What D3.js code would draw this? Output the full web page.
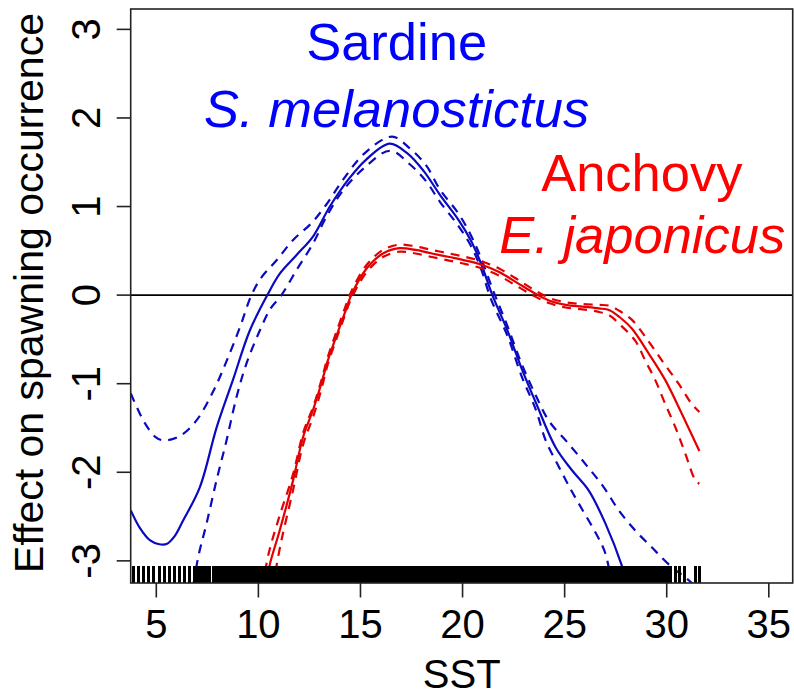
<!DOCTYPE html>
<html>
<head>
<meta charset="utf-8">
<script src="https://cdn.jsdelivr.net/npm/d3@7"></script>
<style>
  html, body { margin: 0; padding: 0; background: #fff; }
  svg { display: block; }
  text { font-family: "Liberation Sans", Arial, sans-serif; }
</style>
</head>
<body>
<svg id="chart" width="794" height="697"></svg>
<script>
// Smooth effect of SST on spawning occurrence (GAM partial effects, ±2 SE)

// Sardine (S. melanostictus) fitted effect
const sardineFit = [
  [3.75,-2.43],[4.2,-2.63],[4.7,-2.77],[5.1,-2.81],[5.5,-2.81],[5.9,-2.72],[6.3,-2.55],
  [7.13,-2.17],[7.96,-1.49],[8.75,-0.96],[9.58,-0.40],[10.46,0.01],[11.04,0.24],
  [11.86,0.45],[12.7,0.67],[13.5,1.0],[14.46,1.32],[15.28,1.53],[16.43,1.71],
  [17.3,1.60],[18.1,1.40],[18.9,1.13],[19.8,0.85],[20.4,0.62],[20.9,0.36],
  [21.46,0.0],[22.2,-0.40],[22.93,-0.85],[23.6,-1.22],[24.56,-1.72],[25.37,-1.98],
  [26.19,-2.21],[27.0,-2.58],[27.81,-3.06],[28.3,-3.45]
];
const sardineUpper = [
  [3.75,-1.11],[4.4,-1.43],[4.95,-1.60],[5.35,-1.64],[6.15,-1.59],[6.95,-1.42],
  [7.8,-1.08],[8.45,-0.74],[9.1,-0.36],[9.66,0.0],[10.15,0.20],[10.88,0.39],
  [11.69,0.62],[12.59,0.81],[13.32,1.02],[14.14,1.30],[15.2,1.60],[16.55,1.79],
  [17.4,1.66],[18.2,1.47],[18.9,1.19],[19.8,0.92],[20.4,0.68],[20.9,0.42],
  [21.5,0.05],[22.2,-0.35],[22.9,-0.78],[23.6,-1.14],[24.23,-1.42],[25.2,-1.68],
  [26.1,-1.93],[26.92,-2.17],[27.65,-2.43],[28.47,-2.66],[29.28,-2.85],[30.1,-3.04],
  [31.23,-3.25],[31.6,-3.35]
];
const sardineLower = [
  [6.7,-3.45],[7.05,-2.96],[7.46,-2.58],[7.95,-2.09],[8.44,-1.64],[8.93,-1.15],
  [9.42,-0.77],[10.07,-0.40],[10.6,-0.15],[11.13,0.0],[11.86,0.28],[12.67,0.58],
  [13.32,0.88],[14.14,1.18],[15.2,1.44],[16.45,1.63],[17.4,1.48],[18.2,1.29],
  [18.9,1.05],[19.8,0.78],[20.4,0.56],[20.9,0.30],[21.4,-0.05],[22.2,-0.46],
  [22.9,-0.92],[23.6,-1.30],[24.07,-1.64],[24.72,-1.94],[25.29,-2.19],[25.86,-2.42],
  [26.51,-2.68],[27.0,-2.92],[27.4,-3.4]
];

// Anchovy (E. japonicus) fitted effect
const anchovyFit = [
  [10.3,-3.35],[10.56,-3.04],[11.04,-2.66],[11.69,-2.10],[12.18,-1.61],[12.67,-1.30],
  [13.08,-1.00],[13.4,-0.74],[13.81,-0.47],[14.22,-0.21],[14.55,0.0],[15.3,0.30],
  [16.1,0.47],[16.9,0.53],[17.7,0.51],[18.5,0.47],[19.35,0.43],[20.16,0.39],
  [20.97,0.34],[21.79,0.26],[22.6,0.15],[23.42,0.035],[24.23,-0.06],[25.05,-0.11],
  [25.86,-0.13],[26.68,-0.15],[27.2,-0.17],[27.7,-0.25],[28.3,-0.38],[29.12,-0.66],
  [29.93,-0.96],[30.74,-1.34],[31.6,-1.76]
];
const anchovyUpper = [
  [10.2,-3.3],[10.5,-2.92],[11.0,-2.52],[11.7,-2.02],[12.2,-1.55],[12.7,-1.25],
  [13.1,-0.95],[13.4,-0.70],[13.8,-0.43],[14.2,-0.17],[14.55,0.04],[15.3,0.34],
  [16.1,0.51],[16.9,0.57],[17.7,0.55],[18.5,0.51],[19.35,0.47],[20.16,0.43],
  [20.97,0.38],[21.79,0.30],[22.6,0.19],[23.42,0.07],[24.23,-0.03],[25.05,-0.08],
  [25.86,-0.10],[26.68,-0.11],[27.2,-0.12],[27.7,-0.18],[28.3,-0.28],[28.95,-0.47],
  [29.77,-0.74],[30.58,-1.0],[31.23,-1.23],[31.6,-1.32]
];
const anchovyLower = [
  [10.7,-3.3],[11.1,-2.8],[11.7,-2.2],[12.2,-1.68],[12.7,-1.36],[13.1,-1.05],
  [13.4,-0.78],[13.8,-0.51],[14.2,-0.25],[14.55,-0.04],[15.3,0.26],[16.1,0.43],
  [16.9,0.49],[17.7,0.47],[18.5,0.43],[19.35,0.39],[20.16,0.35],[20.97,0.30],
  [21.79,0.22],[22.6,0.11],[23.42,0.0],[24.23,-0.09],[25.05,-0.14],[25.86,-0.16],
  [26.68,-0.19],[27.2,-0.23],[27.7,-0.33],[28.47,-0.52],[28.95,-0.74],[29.44,-0.96],
  [29.93,-1.23],[30.42,-1.49],[30.91,-1.79],[31.4,-2.09],[31.6,-2.13]
];

// Observed SST values (rug)
const sstObs = [
  3.88,4.12,4.37,4.64,4.88,5.15,5.39,5.64,5.91,6.16,6.40,6.65,6.89,
  7.0,7.1,7.2,7.3,7.4,7.5,7.6,7.8,7.9,
  8.0,8.1,8.2,8.3,8.4,8.5,8.6,8.7,8.8,8.9,
  9.0,9.1,9.2,9.3,9.4,9.5,9.6,9.7,9.8,9.9,
  10.0,10.1,10.2,10.3,10.4,10.5,10.6,10.7,10.8,10.9,
  11.0,11.1,11.2,11.3,11.4,11.5,11.6,11.7,11.8,11.9,
  12.0,12.1,12.2,12.3,12.4,12.5,12.6,12.7,12.8,12.9,
  13.0,13.1,13.2,13.3,13.4,13.5,13.6,13.7,13.8,13.9,
  14.0,14.1,14.2,14.3,14.4,14.5,14.6,14.7,14.8,14.9,
  15.0,15.1,15.2,15.3,15.4,15.5,15.6,15.7,15.8,15.9,
  16.0,16.1,16.2,16.3,16.4,16.5,16.6,16.7,16.8,16.9,
  17.0,17.1,17.2,17.3,17.4,17.5,17.6,17.7,17.8,17.9,
  18.0,18.1,18.2,18.3,18.4,18.5,18.6,18.7,18.8,18.9,
  19.0,19.1,19.2,19.3,19.4,19.5,19.6,19.7,19.8,19.9,
  20.0,20.1,20.2,20.3,20.4,20.5,20.6,20.7,20.8,20.9,
  21.0,21.1,21.2,21.3,21.4,21.5,21.6,21.7,21.8,21.9,
  22.0,22.1,22.2,22.3,22.4,22.5,22.6,22.7,22.8,22.9,
  23.0,23.1,23.2,23.3,23.4,23.5,23.6,23.7,23.8,23.9,
  24.0,24.1,24.2,24.3,24.4,24.5,24.6,24.7,24.8,24.9,
  25.0,25.1,25.2,25.3,25.4,25.5,25.6,25.7,25.8,25.9,
  26.0,26.1,26.2,26.3,26.4,26.5,26.6,26.7,26.8,26.9,
  27.0,27.1,27.2,27.3,27.4,27.5,27.6,27.7,27.8,27.9,
  28.0,28.1,28.2,28.3,28.4,28.5,28.6,28.7,28.8,28.9,
  29.0,29.1,29.2,29.3,29.4,29.5,29.6,29.7,29.8,29.9,
  30.0,30.1,30.2,
  30.44,30.64,30.88,31.41,31.61
];

const xTicks = [5, 10, 15, 20, 25, 30, 35];
const yTicks = [-3, -2, -1, 0, 1, 2, 3];
const xTitle = "SST";
const yTitle = "Effect on spawning occurrence";
const speciesLabels = [
  { text: "Sardine", italic: false, color: "#0000ff", x: 16.77, y: 2.65 },
  { text: "S. melanostictus", italic: true, color: "#0000ff", x: 16.77, y: 1.9 },
  { text: "Anchovy", italic: false, color: "#ff0000", x: 28.78, y: 1.18 },
  { text: "E. japonicus", italic: true, color: "#ff0000", x: 28.8, y: 0.47 }
];

const svg = d3.select("#chart");
const plot = { left: 130.7, right: 792.7, top: 9, bottom: 583 };

const x = d3.scaleLinear().domain([3.746, 36.17]).range([plot.left, plot.right]);
const y = d3.scaleLinear().domain([-3.25, 3.23]).range([plot.bottom, plot.top]);

svg.append("defs").append("clipPath").attr("id", "plotClip")
  .append("rect")
  .attr("x", plot.left).attr("y", plot.top)
  .attr("width", plot.right - plot.left).attr("height", plot.bottom - plot.top);

const g = svg.append("g").attr("clip-path", "url(#plotClip)");

// zero reference line
g.append("line")
  .attr("x1", plot.left).attr("x2", plot.right)
  .attr("y1", y(0)).attr("y2", y(0))
  .attr("stroke", "#000").attr("stroke-width", 1.6);

const line = d3.line().x(d => x(d[0])).y(d => y(d[1])).curve(d3.curveCatmullRom.alpha(0.5));

function drawCurve(data, color, dashed) {
  g.append("path")
    .datum(data)
    .attr("d", line)
    .attr("fill", "none")
    .attr("stroke", color)
    .attr("stroke-width", 2.2)
    .attr("stroke-dasharray", dashed ? "9,7" : null);
}

const blue = "#0a0ac0";
const red = "#e40000";
drawCurve(sardineFit, blue, false);
drawCurve(sardineUpper, blue, true);
drawCurve(sardineLower, blue, true);
drawCurve(anchovyFit, red, false);
drawCurve(anchovyUpper, red, true);
drawCurve(anchovyLower, red, true);

// rug of observed SST values along the bottom
g.append("g").attr("shape-rendering", "crispEdges").selectAll("line")
  .data(sstObs)
  .join("line")
  .attr("x1", d => x(d)).attr("x2", d => x(d))
  .attr("y1", plot.bottom).attr("y2", plot.bottom - 17.5)
  .attr("stroke", "#000").attr("stroke-width", 3);

// plot frame
svg.append("rect")
  .attr("x", plot.left).attr("y", plot.top)
  .attr("width", plot.right - plot.left).attr("height", plot.bottom - plot.top)
  .attr("fill", "none").attr("stroke", "#222").attr("stroke-width", 1.6);

// x axis
const xAxis = svg.append("g");
xAxis.selectAll("line.tick")
  .data(xTicks).join("line")
  .attr("x1", d => x(d)).attr("x2", d => x(d))
  .attr("y1", plot.bottom).attr("y2", plot.bottom + 14.5)
  .attr("stroke", "#222").attr("stroke-width", 1.6);
xAxis.selectAll("text")
  .data(xTicks).join("text")
  .attr("x", d => x(d)).attr("y", 638)
  .attr("text-anchor", "middle")
  .attr("font-size", 40)
  .attr("fill", "#000")
  .text(d => d);
svg.append("text")
  .attr("x", (plot.left + plot.right) / 2).attr("y", 688)
  .attr("text-anchor", "middle").attr("font-size", 40).attr("fill", "#000")
  .text(xTitle);

// y axis
const yAxis = svg.append("g");
yAxis.selectAll("line.tick")
  .data(yTicks).join("line")
  .attr("x1", plot.left - 14).attr("x2", plot.left)
  .attr("y1", d => y(d)).attr("y2", d => y(d))
  .attr("stroke", "#222").attr("stroke-width", 1.6);
yAxis.selectAll("text")
  .data(yTicks).join("text")
  .attr("transform", d => `translate(100,${y(d)}) rotate(-90)`)
  .attr("text-anchor", "middle")
  .attr("font-size", 40)
  .attr("fill", "#000")
  .text(d => d);
svg.append("text")
  .attr("transform", `translate(43,293) rotate(-90)`)
  .attr("text-anchor", "middle").attr("font-size", 41).attr("fill", "#000")
  .text(yTitle);

// species labels
svg.append("g").selectAll("text")
  .data(speciesLabels).join("text")
  .attr("x", d => x(d.x)).attr("y", d => y(d.y))
  .attr("text-anchor", "middle")
  .attr("font-size", 52.5)
  .attr("font-style", d => d.italic ? "italic" : "normal")
  .attr("fill", d => d.color)
  .text(d => d.text);
</script>
</body>
</html>
